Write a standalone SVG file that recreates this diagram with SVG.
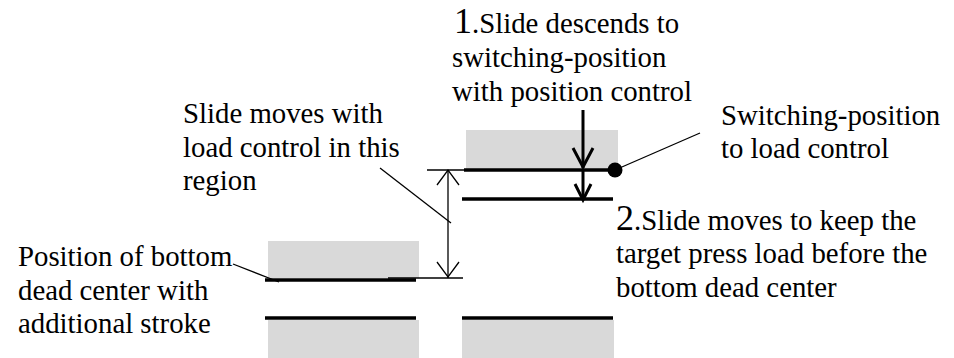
<svg xmlns="http://www.w3.org/2000/svg" width="954" height="358" viewBox="0 0 954 358">
<style>
text{font-family:"Liberation Serif","Times New Roman",serif;font-size:28.8px;fill:#000}
.big{font-size:36px}
.gray{fill:#d9d9d9;stroke:none}
.thick{stroke:#000;stroke-width:3.5;fill:none}
.arr{stroke:#000;stroke-width:3;fill:none}
.thin{stroke:#000;stroke-width:1.3;fill:none}
</style>
<rect width="954" height="358" fill="#fff"/>
<g id="upper-slide">
<rect class="gray" x="466" y="130" width="152" height="39"/>
<line class="thick" x1="464" y1="170" x2="613" y2="170"/>
<circle cx="615" cy="170" r="7.5" fill="#000"/>
</g>
<g id="switch-line">
<line class="thick" x1="462" y1="199" x2="613" y2="199"/>
</g>
<g id="bdc-slide">
<rect class="gray" x="268" y="241" width="151" height="37"/>
<line class="thick" x1="265" y1="280" x2="416" y2="280"/>
</g>
<g id="lower-left-die">
<line class="thick" x1="265" y1="318" x2="416" y2="318"/>
<rect class="gray" x="268" y="320" width="151" height="38"/>
</g>
<g id="lower-right-die">
<line class="thick" x1="462" y1="318" x2="613" y2="318"/>
<rect class="gray" x="462" y="320" width="152" height="38"/>
</g>
<g id="connectors">
<line class="arr" x1="583" y1="110" x2="583" y2="168"/>
<polyline class="arr" points="573,148 583,167 593,148"/>
<line class="arr" x1="583" y1="170" x2="583" y2="199"/>
<polyline class="arr" points="575,184 583,200 591,184"/>
<line class="thin" x1="615" y1="170" x2="700" y2="133"/>
<line class="thin" x1="427" y1="170" x2="464" y2="170"/>
<line class="thin" x1="388" y1="278" x2="463" y2="278"/>
<line class="thin" x1="448" y1="170" x2="448" y2="278"/>
<polyline class="thin" points="437,185 448,170 459,185"/>
<polyline class="thin" points="437,262 448,277 459,262"/>
<line class="thin" x1="380" y1="168" x2="451" y2="223"/>
<line class="thin" x1="233" y1="264" x2="279" y2="282"/>
</g>
<g id="label-step1">
<text x="454" y="33"><tspan class="big">1</tspan>.Slide descends to</text>
<text x="452" y="67">switching-position</text>
<text x="452" y="101">with position control</text>
</g>
<g id="label-switch">
<text x="721" y="125">Switching-position</text>
<text x="721" y="158">to load control</text>
</g>
<g id="label-region">
<text x="183" y="123">Slide moves with</text>
<text x="183" y="157">load control in this</text>
<text x="183" y="190">region</text>
</g>
<g id="label-bdc">
<text x="18" y="266">Position of bottom</text>
<text x="18" y="300">dead center with</text>
<text x="18" y="333">additional stroke</text>
</g>
<g id="label-step2">
<text x="616" y="230"><tspan class="big">2</tspan>.Slide moves to keep the</text>
<text x="616" y="263">target press load before the</text>
<text x="616" y="297">bottom dead center</text>
</g>
</svg>
